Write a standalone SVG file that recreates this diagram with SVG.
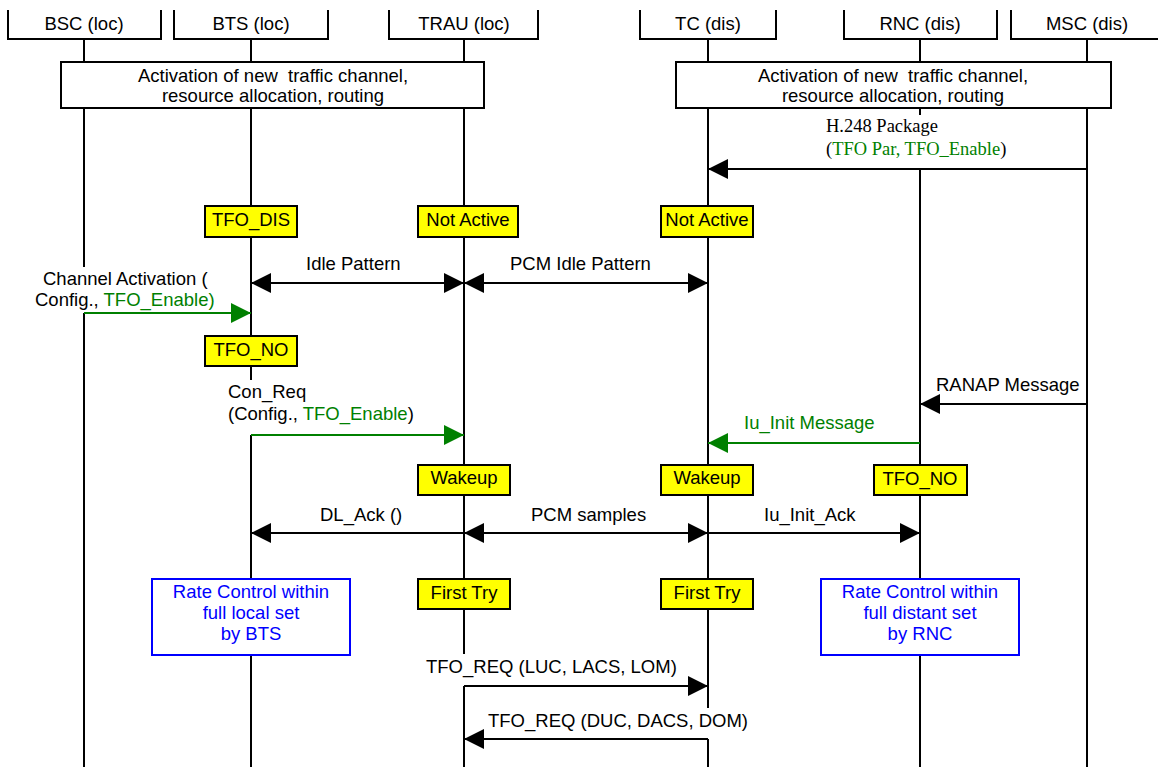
<svg xmlns="http://www.w3.org/2000/svg" width="1158" height="767" viewBox="0 0 1158 767">
<style>
text{font-family:"Liberation Sans",Arial,sans-serif;font-size:18.5px;fill:#000}
.serif{font-family:"Liberation Serif","Times New Roman",serif}
.g{fill:#008000}
.b{fill:#0000ff}
.mid{text-anchor:middle}
.hdr{fill:none;stroke:#000;stroke-width:2}
.life{stroke:#000;stroke-width:2;fill:none}
.act{fill:#fff;stroke:#000;stroke-width:2}
.st{fill:#ffff00;stroke:#000;stroke-width:2}
.rc{fill:#fff;stroke:#0000ff;stroke-width:2}
.msg{stroke:#000;stroke-width:2;fill:none}
.msgg{stroke:#008000;stroke-width:2;fill:none}
</style>
<defs>
<marker id="ah" markerUnits="userSpaceOnUse" markerWidth="20" markerHeight="20" refX="20" refY="10" orient="auto-start-reverse" viewBox="0 0 20 20"><path d="M0,0 L20,10 L0,20 Z" fill="#000"/></marker>
<marker id="ahg" markerUnits="userSpaceOnUse" markerWidth="20" markerHeight="20" refX="20" refY="10" orient="auto-start-reverse" viewBox="0 0 20 20"><path d="M0,0 L20,10 L0,20 Z" fill="#008000"/></marker>
</defs>
<rect width="1158" height="767" fill="#fff"/>

<g id="BSC">
<path class="hdr" d="M8,10 V39 H161 V10"/>
<text class="mid" x="84" y="30">BSC (loc)</text>
<path class="life" d="M84,39 V267 M84,313 V767"/>
</g>
<g id="BTS">
<path class="hdr" d="M174,10 V39 H328 V10"/>
<text class="mid" x="251" y="30">BTS (loc)</text>
<path class="life" d="M251,39 V380 M251,435 V767"/>
</g>
<g id="TRAU">
<path class="hdr" d="M389,10 V39 H538 V10"/>
<text class="mid" x="464" y="30">TRAU (loc)</text>
<path class="life" d="M464,39 V654 M464,686 V767"/>
</g>
<g id="TC">
<path class="hdr" d="M640,10 V39 H776 V10"/>
<text class="mid" x="708" y="30">TC (dis)</text>
<path class="life" d="M708,39 V708 M708,739 V767"/>
</g>
<g id="RNC">
<path class="hdr" d="M844,10 V39 H997 V10"/>
<text class="mid" x="920" y="30">RNC (dis)</text>
<path class="life" d="M920,39 V115 M920,169 V767"/>
</g>
<g id="MSC">
<path class="hdr" d="M1011,10 V39 H1160"/>
<text class="mid" x="1087" y="30">MSC (dis)</text>
<path class="life" d="M1087,39 V767"/>
</g>

<g id="act_loc">
<rect class="act" x="61" y="62" width="423" height="46"/>
<text class="mid" x="273" y="82" xml:space="preserve">Activation of new  traffic channel,</text>
<text class="mid" x="273" y="102">resource allocation, routing</text>
</g>
<g id="act_dis">
<rect class="act" x="676" y="62" width="435" height="46"/>
<text class="mid" x="893" y="82" xml:space="preserve">Activation of new  traffic channel,</text>
<text class="mid" x="893" y="102">resource allocation, routing</text>
</g>

<g id="st_bts_dis"><rect class="st" x="205" y="206" width="92" height="31"/><text class="mid" x="251" y="226">TFO_DIS</text></g>
<g id="st_trau_na"><rect class="st" x="418" y="206" width="100" height="31"/><text class="mid" x="468" y="226">Not Active</text></g>
<g id="st_tc_na"><rect class="st" x="661" y="206" width="92" height="31"/><text class="mid" x="707" y="226">Not Active</text></g>
<g id="st_bts_no"><rect class="st" x="205" y="336" width="92" height="30"/><text class="mid" x="251" y="356">TFO_NO</text></g>
<g id="st_trau_wk"><rect class="st" x="418" y="465" width="92" height="30"/><text class="mid" x="464" y="484">Wakeup</text></g>
<g id="st_tc_wk"><rect class="st" x="661" y="465" width="92" height="30"/><text class="mid" x="707" y="484">Wakeup</text></g>
<g id="st_rnc_no"><rect class="st" x="874" y="465" width="93" height="30"/><text class="mid" x="920" y="485">TFO_NO</text></g>
<g id="st_trau_ft"><rect class="st" x="418" y="579" width="92" height="30"/><text class="mid" x="464" y="599">First Try</text></g>
<g id="st_tc_ft"><rect class="st" x="661" y="579" width="92" height="30"/><text class="mid" x="707" y="599">First Try</text></g>

<g id="rc_bts">
<rect class="rc" x="152" y="579" width="198" height="76"/>
<text class="mid b" x="251" y="598">Rate Control within</text>
<text class="mid b" x="251" y="619">full local set</text>
<text class="mid b" x="251" y="640">by BTS</text>
</g>
<g id="rc_rnc">
<rect class="rc" x="821" y="579" width="198" height="76"/>
<text class="mid b" x="920" y="598">Rate Control within</text>
<text class="mid b" x="920" y="619">full distant set</text>
<text class="mid b" x="920" y="640">by RNC</text>
</g>

<g id="connectors">
<line class="msg" x1="1087" y1="169" x2="708" y2="169" marker-end="url(#ah)"/>
<line class="msg" x1="251" y1="283" x2="464" y2="283" marker-start="url(#ah)" marker-end="url(#ah)"/>
<line class="msg" x1="464" y1="283" x2="708" y2="283" marker-start="url(#ah)" marker-end="url(#ah)"/>
<line class="msgg" x1="84" y1="313" x2="251" y2="313" marker-end="url(#ahg)"/>
<line class="msg" x1="1087" y1="404" x2="920" y2="404" marker-end="url(#ah)"/>
<line class="msgg" x1="251" y1="435" x2="464" y2="435" marker-end="url(#ahg)"/>
<line class="msgg" x1="920" y1="443" x2="708" y2="443" marker-end="url(#ahg)"/>
<line class="msg" x1="464" y1="533" x2="251" y2="533" marker-end="url(#ah)"/>
<line class="msg" x1="464" y1="533" x2="708" y2="533" marker-start="url(#ah)" marker-end="url(#ah)"/>
<line class="msg" x1="708" y1="533" x2="920" y2="533" marker-end="url(#ah)"/>
<line class="msg" x1="464" y1="686" x2="708" y2="686" marker-end="url(#ah)"/>
<line class="msg" x1="708" y1="739" x2="464" y2="739" marker-end="url(#ah)"/>

<text class="serif" x="826" y="132">H.248 Package</text>
<text class="serif" x="826" y="155">(<tspan class="g">TFO Par, TFO_Enable</tspan>)</text>
<text x="306" y="270">Idle Pattern</text>
<text x="510" y="270">PCM Idle Pattern</text>
<text x="43" y="285">Channel Activation (</text>
<text x="35" y="306">Config., <tspan class="g">TFO_Enable)</tspan></text>
<text x="228" y="398">Con_Req</text>
<text x="228" y="420">(Config., <tspan class="g">TFO_Enable</tspan>)</text>
<text x="936" y="391">RANAP Message</text>
<text class="g" x="744" y="429">Iu_Init Message</text>
<text x="320" y="521">DL_Ack ()</text>
<text x="531" y="521">PCM samples</text>
<text x="764" y="521">Iu_Init_Ack</text>
<text x="426" y="673">TFO_REQ (LUC, LACS, LOM)</text>
<text x="488" y="727">TFO_REQ (DUC, DACS, DOM)</text>
</g>
</svg>
